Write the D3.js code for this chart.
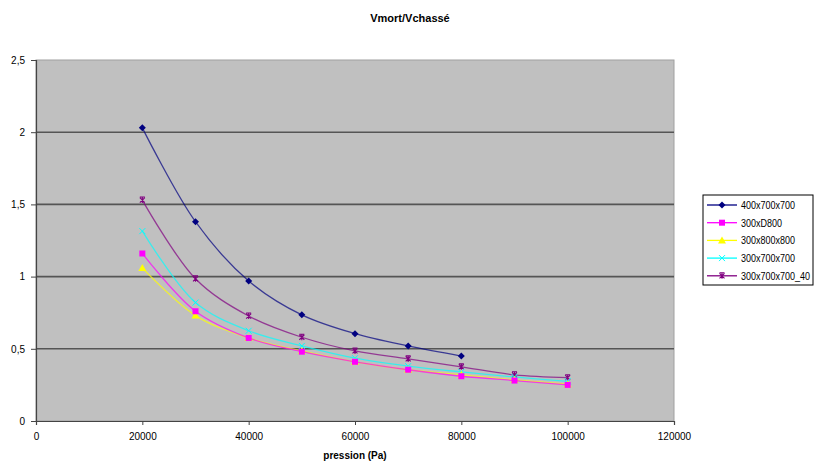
<!DOCTYPE html>
<html>
<head>
<meta charset="utf-8">
<script src="https://cdn.jsdelivr.net/npm/d3@7"></script>
<style>
  body { margin: 0; background: #fff; }
  svg { display: block; font-family: "Liberation Sans", Arial, sans-serif; }
</style>
</head>
<body>
<svg id="chart" width="818" height="462"></svg>
<script>
// data
const pressures = [20000, 30000, 40000, 50000, 60000, 70000, 80000, 90000, 100000]
const seriesNames = ['400x700x700', '300xD800', '300x800x800', '300x700x700', '300x700x700_40']
const v400x700x700 = [2.03, 1.38, 0.97, 0.735, 0.605, 0.52, 0.45]
const v300xD800 = [1.16, 0.76, 0.575, 0.48, 0.41, 0.355, 0.31, 0.28, 0.25]
const v300x800x800 = [1.06, 0.73, 0.575, 0.485, 0.41, 0.355, 0.32, 0.285, 0.255]
const v300x700x700 = [1.315, 0.82, 0.625, 0.52, 0.435, 0.38, 0.34, 0.305, 0.275]
const v300x700x700_40 = [1.53, 0.985, 0.727, 0.58, 0.485, 0.43, 0.375, 0.32, 0.30]
const xTicks = [0, 20000, 40000, 60000, 80000, 100000, 120000]
const yTicks = [0, 0.5, 1, 1.5, 2, 2.5]

const colors = ['#000080', '#ff00ff', '#ffff00', '#00ffff', '#800080']
const markers = ['diamond', 'square', 'triangle', 'x', 'star']
const allValues = [v400x700x700, v300xD800, v300x800x800, v300x700x700, v300x700x700_40]

const series = seriesNames.map((name, i) => ({
  name,
  color: colors[i],
  marker: markers[i],
  points: allValues[i].map((v, j) => ({ x: pressures[j], y: v }))
}))

const svg = d3.select('#chart')
const pLeft = 36, pRight = 674, pTop = 60, pBottom = 421

const x = d3.scaleLinear().domain([0, 120000]).range([pLeft, pRight])
const y = d3.scaleLinear().domain([0, 2.5]).range([pBottom, pTop])

// plot area
svg.append('rect')
  .attr('x', pLeft).attr('y', pTop)
  .attr('width', pRight - pLeft).attr('height', pBottom - pTop)
  .attr('fill', '#c0c0c0')
  .attr('stroke', '#a0a0a0')

// gridlines
svg.append('g')
  .selectAll('line')
  .data(yTicks.filter(d => d > 0 && d < 2.5))
  .join('line')
  .attr('x1', pLeft).attr('x2', pRight)
  .attr('y1', d => y(d)).attr('y2', d => y(d))
  .attr('stroke', '#555').attr('stroke-width', 1.6)

// axes
const xAxis = svg.append('g')
  .attr('transform', `translate(0,${pBottom})`)
  .call(d3.axisBottom(x).tickValues(xTicks).tickFormat(d3.format('d')).tickSize(4).tickPadding(8))
const yAxis = svg.append('g')
  .attr('transform', `translate(${pLeft},0)`)
  .call(d3.axisLeft(y).tickValues(yTicks).tickFormat(d => String(d).replace('.', ',')).tickSize(5).tickPadding(6))

;[xAxis, yAxis].forEach(a => {
  a.select('.domain').attr('stroke', '#444').attr('stroke-width', 1.2)
  a.selectAll('.tick line').attr('stroke', '#444')
  a.selectAll('.tick text').attr('font-size', 10).attr('fill', '#000')
    .attr('font-family', '"Liberation Sans", Arial, sans-serif')
})

// marker shapes
function drawMarker(g, type, color) {
  if (type === 'diamond') {
    g.append('path').attr('d', 'M0,-3.5L3.5,0L0,3.5L-3.5,0Z').attr('fill', color)
  } else if (type === 'square') {
    g.append('rect').attr('x', -3).attr('y', -3).attr('width', 6).attr('height', 6).attr('fill', color)
  } else if (type === 'triangle') {
    g.append('path').attr('d', 'M0,-4L4,3L-4,3Z').attr('fill', color)
  } else if (type === 'x') {
    g.append('path').attr('d', 'M-3,-3L3,3M3,-3L-3,3').attr('stroke', color).attr('stroke-width', 1)
  } else {
    g.append('path').attr('d', 'M-2.5,-2.5L2.5,2.5M2.5,-2.5L-2.5,2.5M-2.5,-3H2.5M0,-3V3').attr('stroke', color).attr('stroke-width', 1.1)
  }
}

const line = d3.line()
  .x(d => x(d.x)).y(d => y(d.y))
  .curve(d3.curveCatmullRom.alpha(0.5))

const groups = svg.append('g').selectAll('g')
  .data(series.slice().reverse())
  .join('g')

groups.append('path')
  .attr('d', d => line(d.points))
  .attr('fill', 'none')
  .attr('stroke', d => d.color)
  .attr('stroke-width', 1.3)
  .attr('stroke-opacity', 0.7)

groups.each(function (s) {
  d3.select(this).selectAll('g.m')
    .data(s.points)
    .join('g')
    .attr('class', 'm')
    .attr('transform', d => `translate(${x(d.x)},${y(d.y)})`)
    .each(function () { drawMarker(d3.select(this), s.marker, s.color) })
})

// title and axis title
svg.append('text')
  .attr('x', 410).attr('y', 22)
  .attr('text-anchor', 'middle')
  .attr('font-size', 11).attr('font-weight', 'bold')
  .text('Vmort/Vchassé')

svg.append('text')
  .attr('x', (pLeft + pRight) / 2).attr('y', 459)
  .attr('text-anchor', 'middle')
  .attr('font-size', 10).attr('font-weight', 'bold')
  .text('pression (Pa)')

// legend
const legend = svg.append('g').attr('transform', 'translate(703,195)')
legend.append('rect')
  .attr('width', 110).attr('height', 90)
  .attr('fill', '#fff').attr('stroke', '#000')

const items = legend.selectAll('g.item')
  .data(series)
  .join('g')
  .attr('class', 'item')
  .attr('transform', (d, i) => `translate(0,${10 + i * 17.7})`)

items.append('line')
  .attr('x1', 4).attr('x2', 34)
  .attr('stroke', d => d.color).attr('stroke-width', 1.3)
items.append('g')
  .attr('transform', 'translate(19,0)')
  .each(function (d) { drawMarker(d3.select(this), d.marker, d.color) })
items.append('text')
  .attr('transform', 'translate(38,4) scale(0.9,1)')
  .attr('font-size', 10)
  .text(d => d.name)
</script>
</body>
</html>
